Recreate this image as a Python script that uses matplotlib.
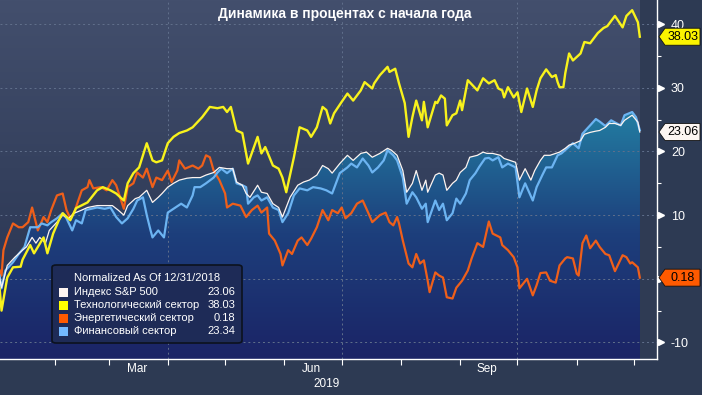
import numpy as np
import pandas as pd
import matplotlib
matplotlib.use("Agg")
import matplotlib.pyplot as plt
import matplotlib.dates as mdates
import matplotlib.transforms as mtransforms
from matplotlib.colors import LinearSegmentedColormap
from matplotlib.patches import Polygon, FancyBboxPatch, Rectangle

plt.rcParams['font.family'] = ['Liberation Sans', 'DejaVu Sans']

title = "Динамика в процентах с начала года"
legend_header = "Normalized As Of 12/31/2018"
names = ["Индекс S&P 500", "Технологический сектор", "Энергетический сектор", "Финансовый сектор"]
last_vals = [23.06, 38.03, 0.18, 23.34]
colors = ["#fdf4f0", "#f8f21c", "#ef5f1a", "#6cb4f2"]
yticks = [-10, 0, 10, 20, 30, 40]

# days counted from 2019-01-01, values = % change since 12/31/2018
spx_days = [2, 3, 6, 10, 14, 16, 19, 21, 23, 26, 28, 32, 35, 38, 41, 45, 48, 53, 58, 61,
            64, 67, 69, 73, 75, 79, 82, 85, 87, 90, 93, 96, 100, 103, 107, 110, 114, 117, 121, 124,
            126, 129, 131, 133, 137, 139, 142, 145, 148, 150, 154, 158, 161, 164, 168, 171, 174, 176, 180, 184,
            187, 191, 194, 197, 201, 205, 207, 210, 213, 215, 218, 220, 223, 225, 226, 230, 232, 234, 236, 239,
            241, 243, 246, 248, 252, 255, 257, 260, 264, 266, 269, 272, 274, 277, 280, 282, 285, 287, 290, 293,
            295, 298, 300, 303, 306, 308, 311, 314, 316, 319, 321, 324, 327, 329, 333, 336, 337]
spx_vals = [0.2, -1.4, 2.1, 3.4, 4.5, 5.0, 6.5, 5.6, 6.5, 5.6, 7.6, 8.9, 10.0, 9.5, 10.3, 10.8, 11.2, 11.5, 11.5, 11.5,
            10.8, 10.0, 11.5, 12.6, 12.8, 13.9, 12.0, 12.8, 13.4, 14.4, 15.0, 15.5, 15.8, 15.9, 15.9, 16.3, 16.7, 17.5, 17.3, 17.3,
            15.2, 14.7, 13.4, 12.8, 14.7, 13.6, 13.4, 11.8, 11.2, 9.7, 12.8, 14.7, 15.2, 15.5, 16.3, 17.8, 17.3, 16.6, 18.1, 19.4,
            18.6, 19.7, 19.9, 19.1, 19.7, 20.5, 20.2, 19.4, 17.0, 13.6, 15.0, 17.0, 13.9, 15.5, 13.6, 16.3, 16.6, 16.3, 13.9, 15.0,
            15.5, 16.7, 17.5, 19.1, 19.4, 19.9, 19.7, 19.7, 19.4, 18.9, 18.6, 18.3, 15.5, 17.3, 15.5, 17.0, 18.6, 19.4, 19.4, 19.7,
            19.9, 20.5, 21.0, 21.3, 21.7, 22.7, 23.0, 23.2, 23.3, 23.8, 24.4, 24.4, 24.1, 24.9, 25.7, 24.6, 23.06]

tech_days = [2, 3, 6, 9, 13, 14, 18, 20, 22, 25, 27, 30, 33, 35, 39, 42, 48, 53, 56, 60,
             63, 67, 69, 72, 75, 79, 82, 84, 87, 90, 93, 96, 100, 103, 108, 112, 116, 119, 121, 123,
             126, 129, 132, 137, 139, 141, 145, 148, 150, 152, 156, 159, 163, 165, 168, 171, 173, 175, 177, 181,
             184, 187, 191, 193, 197, 198, 201, 205, 206, 209, 211, 214, 216, 218, 220, 223, 224, 226, 230, 231,
             233, 235, 236, 239, 241, 243, 244, 247, 252, 255, 258, 261, 263, 265, 266, 268, 271, 273, 275, 278,
             281, 283, 285, 288, 291, 293, 294, 295, 297, 298, 300, 302, 306, 308, 311, 315, 318, 320, 324, 328,
             330, 333, 336, 337]
tech_vals = [-1.5, -5.0, 0.2, 1.8, 1.9, 3.0, 5.3, 4.0, 5.0, 6.5, 4.0, 7.1, 9.2, 10.3, 9.2, 11.1, 12.0, 13.9, 14.4, 13.9,
             13.4, 12.3, 15.0, 16.6, 17.5, 21.3, 18.6, 18.3, 18.6, 21.3, 22.3, 22.9, 23.3, 23.8, 25.4, 27.0, 26.8, 27.0, 26.2, 27.0,
             23.3, 22.9, 18.1, 22.3, 19.7, 20.7, 17.8, 17.3, 15.9, 13.6, 19.1, 23.8, 23.3, 22.3, 23.8, 27.0, 26.5, 24.4, 26.0, 27.8,
             29.1, 28.0, 29.6, 30.9, 29.9, 30.7, 32.0, 33.3, 32.5, 33.0, 30.7, 27.6, 22.3, 25.4, 28.0, 24.9, 27.8, 23.8, 27.8, 27.6,
             28.8, 28.3, 24.1, 25.7, 26.0, 28.0, 26.5, 31.2, 29.6, 31.5, 30.7, 31.2, 29.9, 29.6, 28.5, 30.1, 28.5, 29.3, 26.2, 29.9,
             27.0, 29.6, 31.5, 32.9, 31.7, 32.0, 30.9, 30.1, 30.1, 32.3, 35.4, 34.3, 35.4, 37.2, 37.0, 38.6, 39.4, 39.7, 41.3, 39.5,
             41.3, 42.2, 40.3, 38.03]

energy_days = [2, 3, 4, 6, 9, 12, 14, 17, 19, 22, 25, 27, 29, 32, 35, 37, 39, 41, 45, 48,
               49, 51, 55, 58, 61, 63, 67, 69, 72, 74, 77, 79, 82, 84, 87, 90, 92, 95, 96, 99,
               103, 106, 108, 110, 112, 114, 117, 120, 121, 124, 128, 131, 134, 137, 139, 142, 143, 146, 149, 150,
               153, 155, 158, 160, 163, 165, 168, 171, 174, 176, 179, 181, 183, 186, 189, 192, 195, 197, 201, 204,
               206, 208, 210, 211, 213, 216, 218, 220, 222, 224, 226, 227, 230, 232, 234, 236, 239, 241, 244, 247,
               249, 252, 255, 258, 260, 264, 265, 268, 271, 273, 274, 278, 281, 283, 285, 288, 290, 293, 295, 298,
               299, 302, 304, 305, 307, 309, 311, 314, 316, 319, 321, 324, 328, 330, 332, 333, 336, 337]
energy_vals = [1.3, 0.5, 4.5, 6.5, 8.7, 8.1, 8.1, 8.9, 11.2, 7.6, 9.7, 8.9, 10.8, 13.1, 13.4, 10.8, 9.5, 10.4, 13.9, 14.4,
               15.5, 14.2, 14.4, 13.9, 15.5, 14.7, 11.0, 14.4, 15.0, 16.7, 15.9, 17.3, 14.4, 15.9, 15.5, 17.0, 15.2, 17.0, 18.6, 17.3,
               17.8, 17.3, 17.8, 19.4, 19.1, 17.0, 15.5, 13.4, 11.2, 11.8, 11.5, 9.7, 10.8, 11.5, 10.4, 11.2, 7.1, 6.0, 3.9, 2.1,
               4.5, 3.9, 6.0, 6.5, 5.3, 6.3, 8.1, 10.8, 9.2, 10.8, 10.3, 11.2, 9.5, 10.3, 11.8, 12.3, 10.3, 8.9, 10.0, 10.4,
               8.9, 8.4, 9.7, 8.7, 6.0, 2.4, 1.8, 3.9, 2.4, 2.9, -0.3, -2.1, 1.0, 0.5, 0.2, -2.9, -3.1, -1.4, -0.3, 1.3,
               3.2, 5.6, 5.0, 9.0, 7.1, 6.5, 5.3, 4.5, 3.4, 1.8, -1.5, 0.0, -2.6, -1.0, 0.9, 1.0, -0.3, -0.6, 2.1, 3.2,
               3.4, 3.2, 0.8, 0.5, 5.6, 6.8, 4.8, 6.0, 5.0, 3.9, 3.7, 1.2, 3.7, 3.4, 2.4, 2.6, 1.8, 0.18]

fin_days = [2, 3, 5, 9, 12, 15, 18, 22, 24, 27, 29, 32, 35, 37, 40, 42, 45, 47, 50, 53,
            57, 60, 63, 66, 69, 72, 74, 77, 79, 81, 82, 85, 88, 90, 94, 97, 100, 103, 104, 107,
            110, 114, 116, 118, 121, 124, 126, 129, 131, 132, 135, 137, 139, 142, 145, 148, 150, 153, 156, 159,
            163, 166, 170, 173, 176, 180, 184, 186, 189, 192, 195, 197, 200, 203, 205, 208, 210, 213, 215, 218,
            220, 223, 225, 226, 230, 232, 234, 236, 239, 241, 243, 246, 248, 251, 253, 256, 258, 260, 263, 265,
            268, 272, 274, 277, 281, 283, 286, 288, 291, 294, 296, 299, 302, 305, 307, 311, 314, 316, 319, 322,
            325, 327, 329, 333, 335, 337]
fin_vals = [0.5, -1.5, 1.3, 2.6, 3.9, 5.0, 8.1, 8.1, 8.7, 8.4, 8.9, 9.5, 10.3, 9.5, 7.6, 9.2, 8.7, 10.8, 11.0, 11.2,
            11.0, 11.2, 9.7, 8.7, 9.5, 11.0, 12.3, 12.8, 10.0, 7.6, 6.5, 7.6, 6.5, 10.4, 11.2, 11.8, 11.2, 13.1, 14.4, 14.4,
            15.0, 15.9, 16.7, 17.3, 16.6, 17.3, 15.0, 14.7, 14.4, 11.8, 12.8, 13.1, 12.3, 12.8, 11.2, 10.8, 8.9, 10.3, 13.1, 14.2,
            13.9, 14.4, 14.2, 13.9, 13.4, 16.6, 17.5, 18.1, 17.5, 18.9, 17.8, 16.7, 17.5, 18.6, 20.2, 19.4, 18.6, 15.9, 11.8, 13.6,
            12.8, 11.0, 11.8, 8.9, 12.3, 10.8, 11.8, 9.2, 10.3, 12.6, 11.8, 13.4, 15.5, 16.6, 17.6, 18.9, 19.0, 18.6, 19.1, 17.5,
            18.1, 17.5, 12.8, 15.0, 12.3, 14.4, 16.3, 17.5, 17.5, 19.4, 19.7, 20.5, 21.3, 20.5, 22.8, 24.1, 25.1, 24.7, 24.0, 24.9,
            24.4, 24.1, 25.7, 26.2, 25.4, 23.34]

start = pd.Timestamp("2019-01-01")


def to_num(days):
    return mdates.date2num(start + pd.to_timedelta(np.asarray(days, dtype=float), unit="D"))


W, H = 702, 395
fig = plt.figure(figsize=(W / 100, H / 100), dpi=100, facecolor="#2d3a53")
ax = fig.add_axes([0, 1 - 359 / H, 657 / W, 359 / H])
ax.set_facecolor("#2f3b54")

ymin, ymax = -12.6, 43.8
x_lo, x_hi = to_num([2.2])[0], to_num([346])[0]
x_end = to_num([spx_days[-1]])[0]

# background gradient behind the data range
bg_cmap = LinearSegmentedColormap.from_list("bg", ["#27314f", "#34405d", "#434f6d"])
grad = np.linspace(0, 1, 256).reshape(-1, 1)
ax.imshow(grad, cmap=bg_cmap, origin="lower", aspect="auto",
          extent=[x_lo, x_end, ymin, ymax], zorder=0)

# area under the S&P / financials lines
fill_cmap = LinearSegmentedColormap.from_list("fill", ["#1b2466", "#1d3f7c", "#2380a4"])
for d, v in [(spx_days, spx_vals), (fin_days, fin_vals)]:
    xs = to_num(d)
    verts = [(x_lo, ymin), (x_lo, v[0])] + list(zip(xs, v)) + [(xs[-1], ymin)]
    poly = Polygon(verts, closed=True, fc="none", ec="none")
    ax.add_patch(poly)
    im = ax.imshow(grad, cmap=fill_cmap, origin="lower", aspect="auto",
                   extent=[x_lo, x_end, ymin, 27], zorder=1)
    im.set_clip_path(poly)

# grid
for y in yticks:
    ax.axhline(y, color="#61708c", lw=0.7, ls=(0, (2, 3)), zorder=1.5)
for m in ["2019-04-01", "2019-07-01", "2019-10-01"]:
    ax.axvline(mdates.date2num(pd.Timestamp(m)), color="#61708c", lw=0.7, ls=(0, (2, 3)), zorder=1.5)

ax.plot(to_num(energy_days), energy_vals, color=colors[2], lw=1.6, zorder=3)
ax.plot(to_num(fin_days), fin_vals, color=colors[3], lw=1.6, zorder=4)
ax.plot(to_num(spx_days), spx_vals, color=colors[0], lw=0.9, zorder=5)
ax.plot(to_num(tech_days), tech_vals, color=colors[1], lw=1.7, zorder=6)

ax.set_xlim(x_lo, x_hi)
ax.set_ylim(ymin, ymax)

for s in ["top", "left"]:
    ax.spines[s].set_visible(False)
for s in ["right", "bottom"]:
    ax.spines[s].set_color("white")
    ax.spines[s].set_linewidth(1.0)

# x axis: month-start ticks, labels mid-quarter month
month_starts = pd.date_range("2019-02-01", "2019-12-01", freq="MS")
ax.set_xticks(mdates.date2num(month_starts))
ax.set_xticklabels([])
ax.tick_params(axis="x", which="major", length=4, width=0.8, color="white", direction="out")
lab_dates = mdates.date2num(pd.to_datetime(["2019-03-16", "2019-06-15", "2019-09-15"]))
ax.set_xticks(lab_dates, minor=True)
ax.set_xticklabels(["Mar", "Jun", "Sep"], minor=True)
ax.tick_params(axis="x", which="minor", length=0, pad=3, labelsize=8.5, labelcolor="white")
fig.text(327 / W, 1 - 384 / H, "2019", color="white", fontsize=8.5, ha="center", va="center")

# y axis on the right (the 0 label sits under the energy tag)
ax.yaxis.tick_right()
ax.set_yticks(yticks)
ax.set_yticklabels(["" if t == 0 else str(t) for t in yticks])
ax.set_yticks([-5, 5, 15, 25, 35], minor=True)
ax.tick_params(axis="y", which="major", length=0, pad=10, labelsize=9, labelcolor="white")
ax.tick_params(axis="y", which="minor", length=3, width=0.8, color="white", direction="out")
trans = mtransforms.blended_transform_factory(ax.transAxes, ax.transData)
shift = mtransforms.ScaledTranslation(3.5 / 100, 0, fig.dpi_scale_trans)
ax.plot(np.ones(len(yticks)), yticks, ls="none", marker=">", ms=5, color="white",
        transform=trans + shift, clip_on=False, zorder=7)

# last value tags (pointed boxes right of the axis)
tag_idx = [1, 0, 2]
tag_fc = {1: "#fbf400", 0: "#fdf6f2", 2: "#ff5a00"}
for i in tag_idx:
    yb = ax.transData.transform((x_lo, last_vals[i]))[1]
    hh = 8.5
    pts = [(659, yb), (665, yb + hh), (700, yb + hh), (700, yb - hh), (665, yb - hh)]
    tag = Polygon([(px / W, py / H) for px, py in pts], closed=True, transform=fig.transFigure,
                  fc=tag_fc[i], ec="#111111", lw=0.6, zorder=8)
    fig.patches.append(tag)
    fig.text(683 / W, yb / H, f"{last_vals[i]:.2f}", color="black", fontsize=9,
             ha="center", va="center", zorder=9)

# title
fig.text(345 / W, 1 - 14 / H, title, color="white", fontsize=10, fontweight="bold", ha="center", va="center")

# legend box
lx0, ly0, lx1, ly1 = 52, 265, 242, 343
box = FancyBboxPatch((lx0 / W, 1 - ly1 / H), (lx1 - lx0) / W, (ly1 - ly0) / H,
                     boxstyle="round,pad=0,rounding_size=0.006", transform=fig.transFigure,
                     fc="#1e2b57", ec="#0c121e", lw=1.2, zorder=9)
fig.patches.append(box)
fig.text(147 / W, 1 - 278 / H, legend_header, color="white", fontsize=8, ha="center", va="center", zorder=10)
legend_sq = ["#fdf4f0", "#ffff00", "#ff5a00", "#73b9ff"]
for k, (nm, val, col) in enumerate(zip(names, last_vals, legend_sq)):
    yy = 292 + 13 * k
    sq = Rectangle((59 / W, 1 - (yy + 4.5) / H), 9 / W, 9 / H, transform=fig.transFigure,
                   fc=col, ec="none", zorder=10)
    fig.patches.append(sq)
    fig.text(74 / W, 1 - yy / H, nm, color="white", fontsize=8, ha="left", va="center", zorder=10)
    fig.text(235 / W, 1 - yy / H, f"{val:.2f}", color="white", fontsize=8, ha="right", va="center", zorder=10)

fig.savefig("out.png", dpi=100, facecolor=fig.get_facecolor())
